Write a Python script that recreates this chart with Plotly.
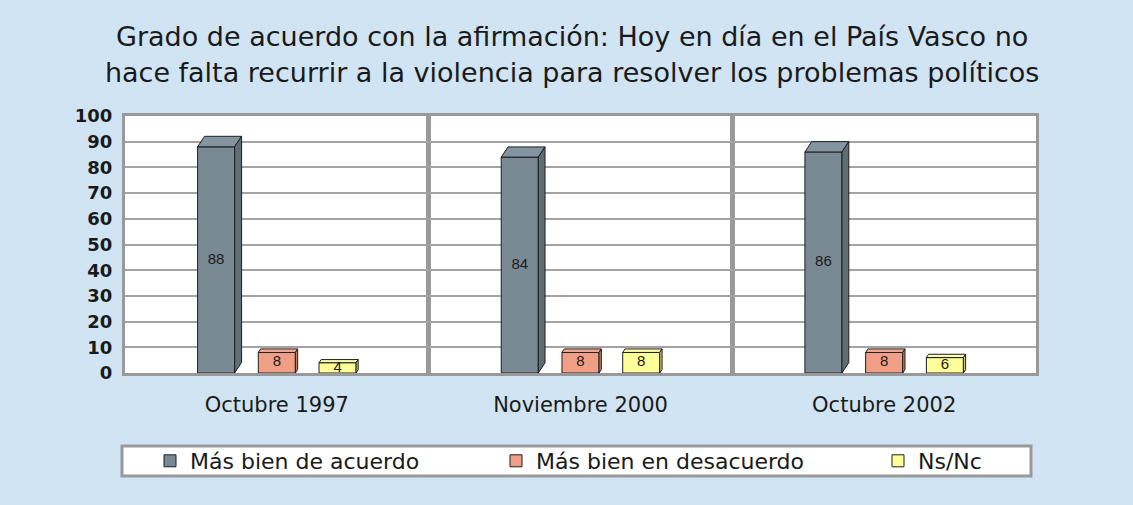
import plotly.graph_objects as go

# ---------------- data ----------------
categories = ["Octubre 1997", "Noviembre 2000", "Octubre 2002"]
series_names = ["Más bien de acuerdo", "Más bien en desacuerdo", "Ns/Nc"]
acuerdo = [88, 84, 86]
desacuerdo = [8, 8, 8]
nsnc = [4, 8, 6]
y_ticks = [0, 10, 20, 30, 40, 50, 60, 70, 80, 90, 100]
title_text = ("Grado de acuerdo con la afirmación: Hoy en día en el País Vasco no<br>"
              "hace falta recurrir a la violencia para resolver los problemas políticos")

# ---------------- styles ----------------
W, H = 1133, 505
ML, MR, MT, MB = 125, 97, 116, 132
PW, PH = W - ML - MR, H - MT - MB
BG = "#d0e4f4"
front = ["#7a8a95", "#f09f86", "#ffff99"]
topc = ["#8494a0", "#f4ae98", "#ffffb0"]
sidec = ["#5f6d77", "#c77d66", "#cfcf6e"]
offsets = [-0.2, 0.0, 0.2]
BW = 0.122
EDGE = "#1e1e1e"
px_x = PW / 3.0
px_y = PH / 100.0

fig = go.Figure()
all_series = [acuerdo, desacuerdo, nsnc]
legend_ids = ["legend", "legend2", "legend3"]

for s, vals in enumerate(all_series):
    xs = [i + offsets[s] for i in range(len(categories))]
    fig.add_trace(go.Bar(
        x=xs, y=vals, width=BW, name=series_names[s],
        marker=dict(color=front[s], line=dict(color=EDGE, width=1)),
        legend=legend_ids[s], hoverinfo="skip"))
    tx, ty, sx, sy = [], [], [], []
    for xc, v in zip(xs, vals):
        xl, xr = xc - BW / 2, xc + BW / 2
        dpy = 2.8 + 0.088 * v
        dpx = 0.66 * dpy
        dx, dy = dpx / px_x, dpy / px_y
        tx += [xl, xl + dx, xr + dx, xr, xl, None]
        ty += [v, v + dy, v + dy, v, v, None]
        sx += [xr, xr, xr + dx, xr + dx, xr, None]
        sy += [0, v, v + dy, dy, 0, None]
    fig.add_trace(go.Scatter(x=tx, y=ty, mode="lines", fill="toself",
                             fillcolor=topc[s], line=dict(color=EDGE, width=1),
                             showlegend=False, hoverinfo="skip"))
    fig.add_trace(go.Scatter(x=sx, y=sy, mode="lines", fill="toself",
                             fillcolor=sidec[s], line=dict(color=EDGE, width=1),
                             showlegend=False, hoverinfo="skip"))
    fig.add_trace(go.Scatter(x=xs, y=[v / 2 for v in vals], mode="text",
                             text=[str(v) for v in vals],
                             textfont=dict(family="Liberation Sans", size=15, color="#1a1a1a"),
                             showlegend=False, hoverinfo="skip", cliponaxis=False))

def px2xp(px):
    return (px - ML) / PW

def py2yp(py):
    return (H - MB - py) / PH

legend_origins = [150, 496, 878]
leg_common = dict(orientation="h", xanchor="left", yanchor="middle",
                  bgcolor="rgba(0,0,0,0)", borderwidth=0,
                  font=dict(family="DejaVu Sans", size=22, color="#1a1a1a"))
layout_legends = {}
for lid, ox in zip(legend_ids, legend_origins):
    layout_legends[lid] = dict(x=px2xp(ox), y=py2yp(461), **leg_common)

fig.update_layout(
    width=W, height=H,
    margin=dict(l=ML, r=MR, t=MT, b=MB),
    paper_bgcolor=BG, plot_bgcolor="white",
    barmode="overlay",
    title=dict(text=title_text, x=0.505, xanchor="center", y=0.908, yanchor="top",
               font=dict(family="DejaVu Sans", size=27, color="#1a1a1a")),
    xaxis=dict(range=[-0.5, 2.5], tickvals=[0, 1, 2], ticktext=categories,
               showgrid=False, zeroline=False, showline=True, mirror=True,
               linecolor="#999999", linewidth=3, ticks="", ticklabelstandoff=11,
               tickfont=dict(family="DejaVu Sans", size=21, color="#1a1a1a"),
               minor=dict(tick0=0.5, dtick=1, showgrid=True, gridcolor="#9a9a9a",
                          gridwidth=5, ticks="")),
    yaxis=dict(range=[0, 100], tickvals=y_ticks, showgrid=True, gridcolor="#a3a3a3",
               gridwidth=2, zeroline=False, showline=True, mirror=True,
               linecolor="#999999", linewidth=3, ticks="", ticklabelstandoff=6,
               tickfont=dict(family="DejaVu Sans", size=18, color="#1a1a1a",
                             weight="bold")),
    shapes=[dict(type="rect", xref="paper", yref="paper",
                 x0=px2xp(122), x1=px2xp(1031), y0=py2yp(476), y1=py2yp(446),
                 line=dict(color="#999999", width=3), fillcolor="white", layer="below")],
    **layout_legends,
)

fig.write_html("out.html", config={"displayModeBar": False},
               post_script="document.body.style.margin='0';"
                           "document.body.style.overflow='hidden';")
